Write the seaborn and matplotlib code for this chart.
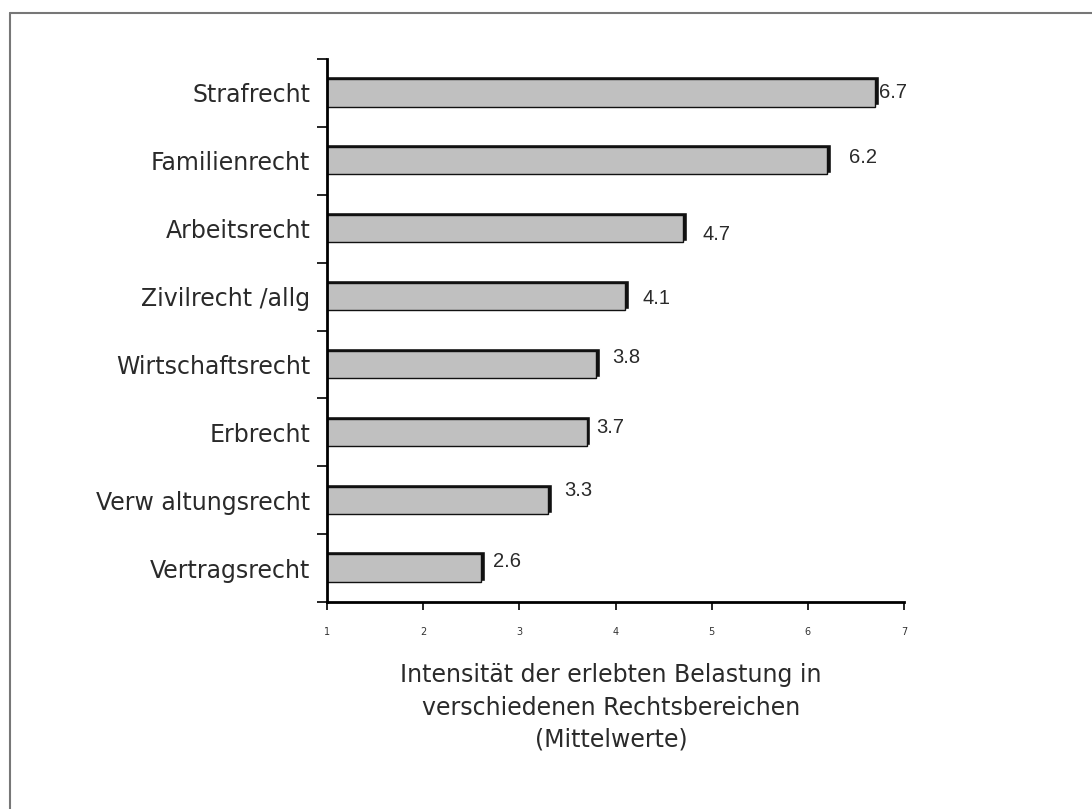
import matplotlib
matplotlib.use("Agg")
import matplotlib.pyplot as plt
import seaborn as sns
import pandas as pd
from matplotlib.lines import Line2D

categories = ["Strafrecht", "Familienrecht", "Arbeitsrecht", "Zivilrecht /allg",
              "Wirtschaftsrecht", "Erbrecht", "Verw altungsrecht", "Vertragsrecht"]
values = [6.7, 6.2, 4.7, 4.1, 3.8, 3.7, 3.3, 2.6]
x_ticks = [1, 2, 3, 4, 5, 6, 7]
xlabel_lines = ["Intensität der erlebten Belastung in",
                "verschiedenen Rechtsbereichen",
                "(Mittelwerte)"]

# value-label offsets from bar end / bar centre (style only), pixels: (dx right, dy up)
label_offsets = [(4, 0), (22, 3), (20, -6), (17, -2), (16, 7), (10, 5), (16, 10), (12, 7)]

sns.set_theme(style="white")
plt.rcParams["font.family"] = ["DejaVu Sans"]

df = pd.DataFrame({"cat": categories, "val": values})

fig = plt.figure(figsize=(10.92, 8.09), dpi=100)
ax_l, ax_r, ax_t, ax_b = 327, 904, 59, 602
ax = fig.add_axes([ax_l/1092, 1-ax_b/809, (ax_r-ax_l)/1092, (ax_b-ax_t)/809])

# shadow bars (dark 3D edge)
shadow = df.copy()
shadow["val"] = shadow["val"] + 0.04
sns.barplot(data=shadow, x="val", y="cat", orient="h", color="#111111",
            width=0.43, saturation=1, ax=ax, order=categories)
for p in ax.patches:
    p.set_y(p.get_y() - 0.03)
sns.barplot(data=df, x="val", y="cat", orient="h", color="#c0c0c0",
            width=0.40, saturation=1, ax=ax, order=categories,
            edgecolor="#111111", linewidth=1.0)

ax.set_xlim(1, 7)
ax.set_ylim(len(categories) - 0.5, -0.5)
ax.set_xticks(x_ticks)
ax.set_xticklabels([str(t) for t in x_ticks], fontsize=7, color="#333333")
ax.set_yticks(range(len(categories)))
ax.set_yticklabels(categories, fontsize=17, color="#2a2a2a")
for lbl in ax.get_yticklabels():
    lbl.set_va("center_baseline")
ax.set_yticks([i - 0.5 for i in range(len(categories) + 1)], minor=True)
ax.tick_params(axis="y", which="major", length=0, pad=12)
ax.tick_params(axis="y", which="minor", length=7, width=1.2, color="black", left=True, direction="out")
ax.tick_params(axis="x", which="major", length=6, width=1.2, color="black", bottom=True,
               direction="out", pad=12)
ax.set_xlabel("")
ax.set_ylabel("")
for s in ["top", "right"]:
    ax.spines[s].set_visible(False)
for s in ["left", "bottom"]:
    ax.spines[s].set_color("black")
    ax.spines[s].set_linewidth(2.0)

# value labels
px_per_unit_x = (ax_r - ax_l) / 6
px_per_unit_y = (ax_b - ax_t) / len(categories)
for i, (v, (dx, dy)) in enumerate(zip(values, label_offsets)):
    ax.text(v + dx / px_per_unit_x, i - dy / px_per_unit_y,
            f"{v:.1f}", va="center", ha="left", fontsize=14.5,
            color="#2a2a2a", family=["Liberation Sans"])

baselines = [682, 715, 746]
for line, yb in zip(xlabel_lines, baselines):
    fig.text(611/1092, 1-yb/809, line, ha="center", va="baseline", fontsize=17,
             color="#2a2a2a")

# border (top and left visible)
fig.add_artist(Line2D([10/1092, 1], [1-13/809, 1-13/809], transform=fig.transFigure,
                      color="#777777", linewidth=1.5))
fig.add_artist(Line2D([10/1092, 10/1092], [0, 1-13/809], transform=fig.transFigure,
                      color="#777777", linewidth=1.5))

fig.savefig("out.png", dpi=100, facecolor="white")
